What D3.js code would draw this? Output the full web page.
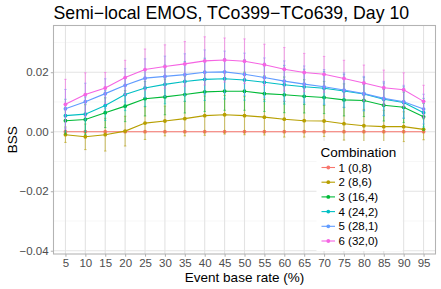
<!DOCTYPE html>
<html><head><meta charset="utf-8">
<script src="https://cdn.jsdelivr.net/npm/d3@7"></script>
<style>body{margin:0;background:#fff}svg{font-family:"Liberation Sans",Arial,sans-serif}</style>
</head><body><svg id="c" width="441" height="289"></svg>
<script>
const rates = [5,10,15,20,25,30,35,40,45,50,55,60,65,70,75,80,85,90,95];
const combos = ["1 (0,8)","2 (8,6)","3 (16,4)","4 (24,2)","5 (28,1)","6 (32,0)"];
const colors = ["#F8766D","#B79F00","#00BA38","#00BFC4","#619CFF","#F564E3"];
const yTicks = [-0.04,-0.02,0.00,0.02];
const yMinor = [-0.03,-0.01,0.01,0.03];
const bss1 = [0,0,0,0,0,0,0,0,0,0,0,0,0,0,0,0,0,0,0];
const bss2 = [-0.0010,-0.0017,-0.0010,0.0002,0.0029,0.0036,0.0044,0.0054,0.0057,0.0054,0.0049,0.0042,0.0037,0.0036,0.0027,0.0020,0.0017,0.0017,0.0008];
const bss3 = [0.0037,0.0041,0.0064,0.0086,0.0111,0.0117,0.0125,0.0134,0.0136,0.0136,0.0128,0.0124,0.0119,0.0115,0.0107,0.0105,0.0089,0.0082,0.0050];
const bss4 = [0.0054,0.0059,0.0088,0.0125,0.0147,0.0159,0.0169,0.0176,0.0178,0.0174,0.0166,0.0158,0.0151,0.0146,0.0137,0.0127,0.0109,0.0098,0.0064];
const bss5 = [0.0077,0.0101,0.0128,0.0156,0.0180,0.0186,0.0192,0.0200,0.0201,0.0193,0.0182,0.0170,0.0160,0.0151,0.0140,0.0128,0.0112,0.0101,0.0076];
const bss6 = [0.0092,0.0125,0.0147,0.0182,0.0209,0.0219,0.0228,0.0238,0.0241,0.0237,0.0225,0.0210,0.0199,0.0193,0.0179,0.0164,0.0148,0.0141,0.0102];
const err1 = [0,0,0,0,0,0,0,0,0,0,0,0,0,0,0,0,0,0,0];
const err2 = [0.0026,0.0043,0.0055,0.0050,0.0055,0.0050,0.0058,0.0066,0.0065,0.0064,0.0060,0.0060,0.0055,0.0052,0.0055,0.0055,0.0055,0.0050,0.0035];
const err3 = [0.0045,0.0050,0.0050,0.0052,0.0058,0.0060,0.0062,0.0066,0.0064,0.0064,0.0060,0.0060,0.0056,0.0054,0.0054,0.0054,0.0053,0.0051,0.0045];
const err4 = [0.0055,0.0058,0.0050,0.0054,0.0062,0.0065,0.0067,0.0071,0.0068,0.0068,0.0064,0.0065,0.0059,0.0056,0.0056,0.0056,0.0055,0.0053,0.0048];
const err5 = [0.0065,0.0062,0.0050,0.0056,0.0065,0.0068,0.0070,0.0075,0.0070,0.0071,0.0066,0.0068,0.0061,0.0058,0.0058,0.0058,0.0057,0.0055,0.0050];
const err6 = [0.0084,0.0073,0.0052,0.0058,0.0069,0.0073,0.0075,0.0081,0.0074,0.0075,0.0069,0.0073,0.0064,0.0060,0.0061,0.0060,0.0059,0.0057,0.0054];
const values = [bss1,bss2,bss3,bss4,bss5,bss6];
const errors = [err1,err2,err3,err4,err5,err6];

const svg = d3.select("#c");
const L=53.5, R=435.5, T=25.5, B=254;
const x = d3.scalePoint().domain(rates).range([L,R]).padding(0.6);
const y = d3.scaleLinear().domain([-0.0411,0.0357]).range([B,T]);

// grid
const g = svg.append("g");
g.selectAll(".ymin").data(yMinor).join("line").attr("x1",L).attr("x2",R)
 .attr("y1",d=>y(d)).attr("y2",d=>y(d)).attr("stroke","#F0F0F0").attr("stroke-width",0.55);
g.selectAll(".ymaj").data(yTicks).join("line").attr("x1",L).attr("x2",R)
 .attr("y1",d=>y(d)).attr("y2",d=>y(d)).attr("stroke","#E3E3E3").attr("stroke-width",1.07);
g.selectAll(".xmaj").data(rates).join("line").attr("y1",T).attr("y2",B)
 .attr("x1",d=>x(d)).attr("x2",d=>x(d)).attr("stroke","#E3E3E3").attr("stroke-width",1.07);

// series
values.forEach((vals,i)=>{
  const sg = svg.append("g");
  sg.selectAll("line.eb").data(rates).join("line")
    .attr("x1",d=>x(d)).attr("x2",d=>x(d))
    .attr("y1",(d,j)=>y(vals[j]-errors[i][j])).attr("y2",(d,j)=>y(vals[j]+errors[i][j]))
    .attr("stroke",colors[i]).attr("stroke-opacity",0.55).attr("stroke-width",1.1);
  ["lo","hi"].forEach(s=>{
    sg.selectAll("line.cap"+s).data(rates).join("line")
      .attr("x1",d=>x(d)-1.2).attr("x2",d=>x(d)+1.2)
      .attr("y1",(d,j)=>y(vals[j]+(s=="hi"?1:-1)*errors[i][j]))
      .attr("y2",(d,j)=>y(vals[j]+(s=="hi"?1:-1)*errors[i][j]))
      .attr("stroke",colors[i]).attr("stroke-opacity",0.55).attr("stroke-width",1.1);
  });
  sg.append("path").datum(rates)
    .attr("d",d3.line().x(d=>x(d)).y((d,j)=>y(vals[j])))
    .attr("fill","none").attr("stroke",colors[i]).attr("stroke-width",1.1);
  sg.selectAll("circle").data(rates).join("circle")
    .attr("cx",d=>x(d)).attr("cy",(d,j)=>y(vals[j])).attr("r",1.9).attr("fill",colors[i]);
});

// border
svg.append("rect").attr("x",L).attr("y",T).attr("width",R-L).attr("height",B-T)
  .attr("fill","none").attr("stroke","#B3B3B3").attr("stroke-width",1.07);

// axes
const xa = svg.append("g").attr("transform",`translate(0,${B})`)
  .call(d3.axisBottom(x).tickSize(2.7).tickPadding(2.2));
const ya = svg.append("g").attr("transform",`translate(${L},0)`)
  .call(d3.axisLeft(y).tickValues(yTicks).tickSize(2.7).tickPadding(2.2)
    .tickFormat(d=>d3.format(".2f")(d).replace("-","\u2212")));
[xa,ya].forEach(a=>{
  a.select(".domain").remove();
  a.selectAll(".tick line").attr("stroke","#B3B3B3").attr("stroke-width",1.07);
  a.selectAll(".tick text").attr("fill","#4D4D4D").style("font-size","11.5px");
});

// titles
svg.append("text").attr("x",L).attr("y",19).attr("font-size","17.7px").attr("fill","#000")
  .text("Semi\u2212local EMOS, TCo399\u2212TCo639, Day 10");
svg.append("text").attr("x",(L+R)/2).attr("y",282).attr("text-anchor","middle")
  .attr("font-size","13.5px").text("Event base rate (%)");
svg.append("text").attr("transform",`translate(17,${(T+B)/2}) rotate(-90)`)
  .attr("text-anchor","middle").attr("font-size","13.5px").text("BSS");

// legend
const lg = svg.append("g");
lg.append("rect").attr("x",316.5).attr("y",141).attr("width",86).attr("height",110).attr("fill","#fff");
lg.append("text").attr("x",320.5).attr("y",156.5).attr("font-size","13.5px").text("Combination");
combos.forEach((c,i)=>{
  const cy = 167.5 + i*14.7;
  lg.append("line").attr("x1",321.5).attr("x2",335).attr("y1",cy).attr("y2",cy)
    .attr("stroke",colors[i]).attr("stroke-width",1.1);
  lg.append("circle").attr("cx",328.3).attr("cy",cy).attr("r",1.9).attr("fill",colors[i]);
  lg.append("text").attr("x",338.5).attr("y",cy+4).attr("font-size","11.5px").text(c);
});
</script></body></html>
